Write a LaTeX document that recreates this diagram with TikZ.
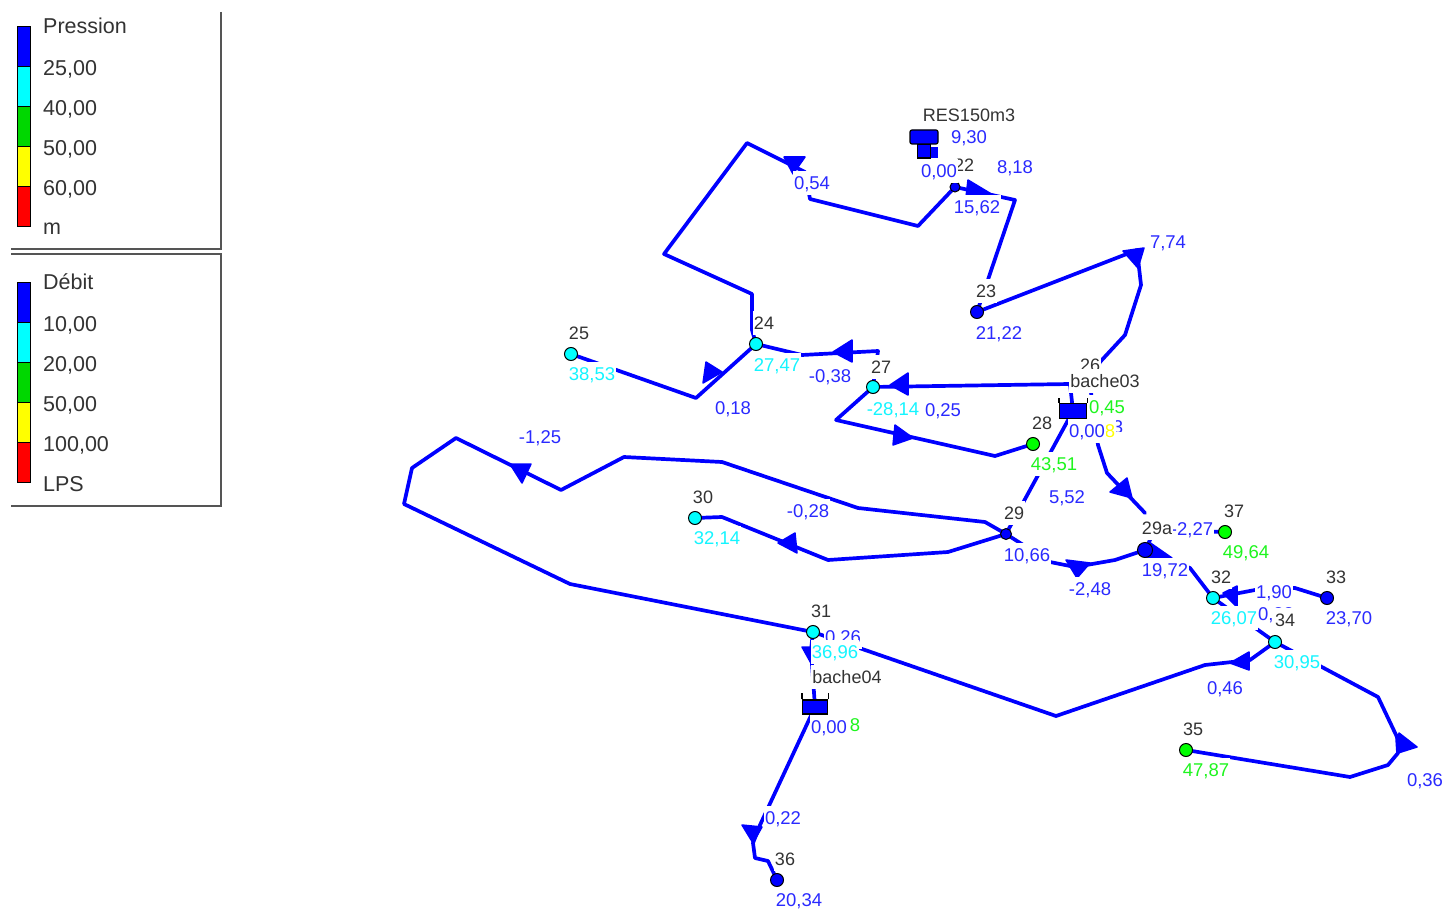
\documentclass[tikz,border=0pt]{standalone}
\usepackage{fontspec}
\setmainfont{Liberation Sans}
\usetikzlibrary{backgrounds}
\definecolor{lblblue}{RGB}{42,42,255}
\definecolor{ink}{RGB}{51,51,51}
\definecolor{frame}{RGB}{85,85,85}
\definecolor{pureblue}{RGB}{0,0,255}
\definecolor{purecyan}{RGB}{0,255,255}
\definecolor{puregreen}{RGB}{0,255,0}
\definecolor{legendgreen}{RGB}{0,215,0}
\definecolor{pureyellow}{RGB}{255,255,0}
\definecolor{purered}{RGB}{255,0,0}
\definecolor{lblcyan}{RGB}{20,245,255}
\definecolor{lblgreen}{RGB}{30,245,30}
\tikzset{
  x=1pt,y=-1pt,
  pipe/.style={draw=pureblue,line width=3.7pt,line join=round,line cap=round},
  flowmark/.style={fill=pureblue,draw=pureblue,line width=1.5pt,line join=round},
  junction/.style={circle,draw=black,line width=1pt,inner sep=0pt,minimum size=13pt},
  lab/.style={fill=white,inner xsep=1pt,inner ysep=0pt,minimum height=24pt,text height=13.5pt,text depth=0pt,font=\fontsize{18.5}{18.5}\selectfont},
  bl/.style={lab,text=lblblue},
  cy/.style={lab,text=lblcyan},
  gr/.style={lab,text=lblgreen},
  ye/.style={lab,text=pureyellow},
  bk/.style={lab,text=ink,font=\fontsize{18}{18}\selectfont},
  leg/.style={anchor=west,text=ink,inner sep=0pt,font=\fontsize{21.5}{21.5}\selectfont},
  bar/.style={draw=black,line width=1pt},
  tankbody/.style={draw=black,fill=pureblue,line width=1.2pt,inner sep=0pt},
  frameline/.style={draw=frame,line width=2pt}
}
\begin{document}
\begin{tikzpicture}
\useasboundingbox (0,0) rectangle (1448,912);
\begin{pgfonlayer}{background}
\fill[white] (0,0) rectangle (1448,912);
\end{pgfonlayer}
% legend
\draw[frameline] (221,12) -- (221,249) -- (11,249);
\draw[frameline] (11,254) -- (221,254) -- (221,506) -- (11,506);
\foreach \c [count=\i from 0] in {pureblue,purecyan,legendgreen,pureyellow,purered}{
  \fill[\c] (17,27+40*\i) rectangle (30,67+40*\i);
  \draw[bar] (17,27+40*\i) rectangle (30,67+40*\i);
  \fill[\c] (17,282+40*\i) rectangle (30,322+40*\i);
  \draw[bar] (17,282+40*\i) rectangle (30,322+40*\i);
}
\node[leg] (lp0) at (43,26) {Pression};
\node[leg] (lp1) at (43,69) {25,00};
\node[leg] (lp2) at (43,109) {40,00};
\node[leg] (lp3) at (43,149) {50,00};
\node[leg] (lp4) at (43,189) {60,00};
\node[leg] (lp5) at (43,229) {m};
\node[leg] (ld0) at (43,282) {Débit};
\node[leg] (ld1) at (43,325) {10,00};
\node[leg] (ld2) at (43,365) {20,00};
\node[leg] (ld3) at (43,405) {50,00};
\node[leg] (ld4) at (43,445) {100,00};
\node[leg] (ld5) at (43,484) {LPS};
% junctions
\node[junction,fill=pureblue,minimum size=10pt] (n22) at (955,187) {};
\node[junction,fill=pureblue] (n23) at (977,312) {};
\node[junction,fill=purecyan] (n24) at (756,344) {};
\node[junction,fill=purecyan] (n25) at (571,354) {};
\coordinate (n26) at (1090,385);
\node[junction,fill=purecyan] (n27) at (873,387) {};
\node[junction,fill=puregreen] (n28) at (1033,444) {};
\node[junction,fill=pureblue,minimum size=11pt] (n29) at (1006,534) {};
\node[junction,fill=pureblue,minimum size=15pt] (n29a) at (1145,550) {};
\node[junction,fill=purecyan] (n30) at (695,518) {};
\node[junction,fill=purecyan] (n31) at (813,632) {};
\node[junction,fill=purecyan] (n32) at (1213,598) {};
\node[junction,fill=pureblue] (n33) at (1327,598) {};
\node[junction,fill=purecyan] (n34) at (1275,642) {};
\node[junction,fill=puregreen] (n35) at (1186,750) {};
\node[junction,fill=pureblue] (n36) at (777,880) {};
\node[junction,fill=puregreen] (n37) at (1225,532) {};
\coordinate (t3) at (1073,411);
\coordinate (t4) at (815,707);
% pipes
\begin{pgfonlayer}{background}
\draw[pipe] (n22.center) -- (918,226) -- (810,199) -- (805,172) -- (747,143) -- (664,254) -- (752,294) -- (752,330) -- (n24.center);
\draw[pipe] (n22.center) -- (1015,200) -- (n23.center);
\draw[pipe] (n23.center) -- (1137,250) -- (1141,285) -- (1125,335) -- (1100,362) -- (n26);
\draw[pipe] (n26) -- (1098,445) -- (1107,473) -- (n29a.center |- 0,513);
\draw[pipe] (n24.center) -- (696,398) -- (n25.center);
\draw[pipe] (n24.center) -- (802,355) -- (878,351) -- (n27.center);
\draw[pipe] (n27.center) -- (1070,384) -- (t3);
\draw[pipe] (n27.center) -- (836,420) -- (995,456) -- (n28.center);
\draw[pipe] (t3) -- (n29.center);
\draw[pipe] (n29.center) -- (1050,562) -- (1075,567) -- (1115,560) -- (n29a.center);
\draw[pipe] (n29a.center) -- (1190,568) -- (n32.center);
\draw[pipe] (n37.center) -- (1155,530) -- (n29a.center);
\draw[pipe] (n32.center) -- (1255,590) -- (1295,588) -- (n33.center);
\draw[pipe] (n32.center) -- (n34.center);
\draw[pipe] (n34.center) -- (1378,697) -- (1397,737) -- (1398,753) -- (1388,765) -- (1350,777) -- (n35.center);
\draw[pipe] (n34.center) -- (1250,660) -- (1205,665) -- (1056,716) -- (n31.center);
\draw[pipe] (n31.center) -- (570,584) -- (404,504) -- (412,468) -- (456,438) -- (561,490) -- (624,457) -- (722,462) -- (858,508) -- (985,522) -- (n29.center);
\draw[pipe] (n30.center) -- (722,517) -- (828,560) -- (948,552) -- (n29.center);
\draw[pipe] (n31.center) -- (811,650) -- (t4);
\draw[pipe] (t4) -- (760,825) -- (753,843) -- (755,858) -- (768,861) -- (n36.center);
% flow marks
\draw[flowmark] (784,157) -- (805,157) -- (793,174) -- cycle;
\draw[flowmark] (1123,251) -- (1144,248) -- (1138,268) -- cycle;
\draw[flowmark] (510,464) -- (531,464) -- (522,483) -- cycle;
\draw[flowmark] (1399,733) -- (1417,747) -- (1398,753) -- cycle;
\draw[flowmark] (742,825) -- (762,827) -- (753,843) -- cycle;
\draw[flowmark] (706,362) -- (722,372) -- (703,383) -- cycle;
\draw[flowmark] (852,340) -- (852,362) -- (833,352) -- cycle;
\draw[flowmark] (908,373) -- (908,395) -- (890,385) -- cycle;
\draw[flowmark] (895,425) -- (913,438) -- (893,445) -- cycle;
\draw[flowmark] (968,180) -- (993,195) -- (966,197) -- cycle;
\draw[flowmark] (1110,492) -- (1127,478) -- (1132,498) -- cycle;
\draw[flowmark] (778,543) -- (795,533) -- (797,553) -- cycle;
\draw[flowmark] (1066,560) -- (1090,563) -- (1077,578) -- cycle;
\draw[flowmark] (1149,542) -- (1172,558) -- (1145,558) -- cycle;
\draw[flowmark] (1223,593) -- (1237,586) -- (1237,607) -- cycle;
\draw[flowmark] (1230,663) -- (1249,652) -- (1249,670) -- cycle;
\draw[flowmark] (802,647) -- (815,647) -- (812,665) -- cycle;
\end{pgfonlayer}
% hidden-under labels first
\node[bk] (id22) at (964,165) {22};
\node[bl] (v26) at (843,637) {0,26};
\node[bk] (id26) at (1090,365) {26};
\node[bl] (v34b) at (1276,614) {0,33};
\begin{scope}
\clip (1112,418) rectangle (1126,431);
\node[bl,fill=none] (frag) at (1118,427) {3};
\end{scope}
\node[bl] (v227) at (1192,529) {-2,27};
% values
\node[bl] (v1) at (812,183) {0,54};
\node[bl] (v2) at (969,137) {9,30};
\node[bl] (v3) at (939,171) {0,00};
\node[bl] (v4) at (1015,167) {8,18};
\node[bl] (v5) at (977,207) {15,62};
\node[bl] (v6) at (1168,242) {7,74};
\node[bl] (v7) at (999,333) {21,22};
\node[bl] (v8) at (830,376) {-0,38};
\node[bl] (v9) at (733,408) {0,18};
\node[bl] (v10) at (943,410) {0,25};
\node[bl] (v11) at (540,437) {-1,25};
\node[bl] (v12) at (808,511) {-0,28};
\node[bl] (v13) at (1067,497) {5,52};
\node[bl] (v15) at (1027,555) {10,66};
\node[bl] (v16) at (1090,589) {-2,48};
\node[bl] (v17) at (1165,570) {19,72};
\node[bl] (v18) at (1274,592) {1,90};
\node[bl] (v19) at (1349,618) {23,70};
\node[bl] (v20) at (1225,688) {0,46};
\node[bl] (v21) at (1425,780) {0,36};
\node[bl] (v23) at (829,727) {0,00};
\node[bl] (v24) at (783,818) {0,22};
\node[bl] (v25) at (799,900) {20,34};
\node[cy] (c1) at (592,374) {38,53};
\node[cy] (c2) at (777,365) {27,47};
\node[cy] (c3) at (893,409) {-28,14};
\node[cy] (c4) at (717,538) {32,14};
\node[cy] (c5) at (1234,618) {26,07};
\node[cy] (c6) at (1297,662) {30,95};
\node[cy] (c7) at (835,652) {36,96};
\node[gr] (g1) at (1107,407) {0,45};
\node[gr] (g2) at (1054,464) {43,51};
\node[gr] (g3) at (1246,552) {49,64};
\node[gr] (g4) at (1206,770) {47,87};
\node[gr] (g5) at (855,725) {8};
\node[ye] (y1) at (1110,431) {8};
\node[bl] (v14) at (1087,431) {0,00};
% ids
\node[bk] (res) at (969,115) {RES150m3};
\node[bk] (id23) at (986,291) {23};
\node[bk] (id24) at (764,323) {24};
\node[bk] (id25) at (579,333) {25};
\node[bk] (id27) at (881,367) {27};
\node[bk] (id28) at (1042,423) {28};
\node[bk] (id29) at (1014,513) {29};
\node[bk] (id29a) at (1157,528) {29a};
\node[bk] (id30) at (703,497) {30};
\node[bk] (id31) at (821,611) {31};
\node[bk] (id32) at (1221,577) {32};
\node[bk] (id33) at (1336,577) {33};
\node[bk] (id34) at (1285,620) {34};
\node[bk] (id35) at (1193,729) {35};
\node[bk] (id36) at (785,859) {36};
\node[bk] (id37) at (1234,511) {37};
\node[bk] (b3) at (1105,381) {bache03};
\node[bk] (b4) at (847,677) {bache04};
% tanks
\node[tankbody,minimum width=27pt,minimum height=15pt] (tank3) at (t3) {};
\draw[black,line width=1.2pt] (tank3.north west) -- ++(0,-5);
\draw[black,line width=1.2pt] (tank3.north east) -- ++(0,-5);
\node[tankbody,minimum width=25pt,minimum height=14pt] (tank4) at (t4) {};
\draw[black,line width=1.2pt] (tank4.north west) -- ++(0,-6);
\draw[black,line width=1.2pt] (tank4.north east) -- ++(0,-6);
\fill[pureblue] (930,147) rectangle (938,158);
\node[tankbody,minimum width=13pt,minimum height=14pt] (resb) at (924,151) {};
\node[tankbody,rounded corners=2pt,minimum width=28pt,minimum height=14pt] (rest) at (924,137) {};
\end{tikzpicture}
\end{document}
